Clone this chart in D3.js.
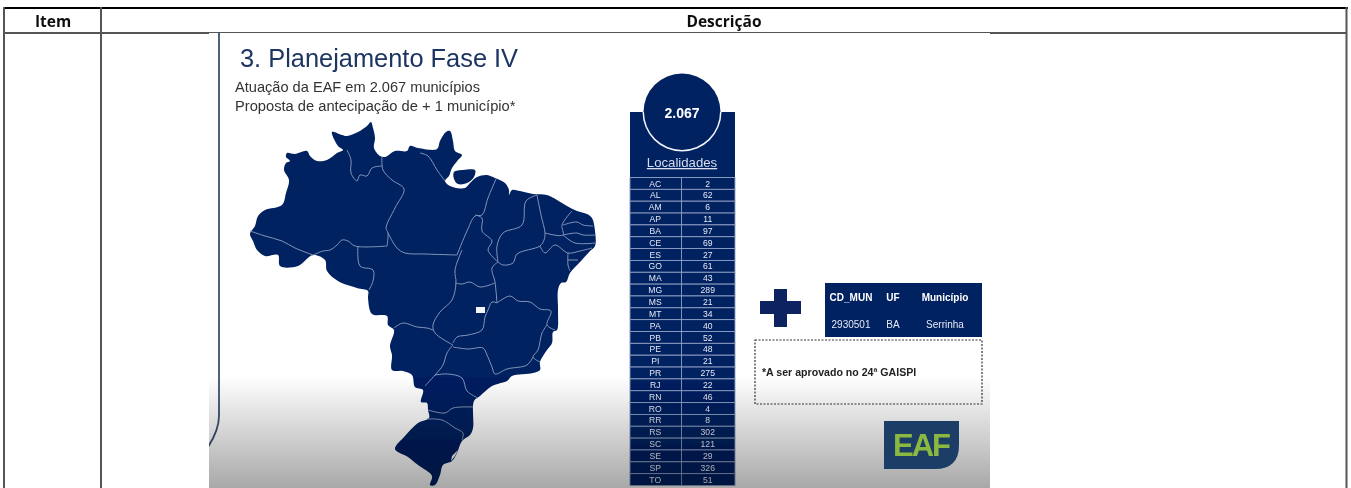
<!DOCTYPE html>
<html>
<head>
<meta charset="UTF-8" />
<title>Planejamento Fase IV</title>
<style>
    body { margin: 0; padding: 0; background: #fff; overflow: hidden; }
    svg { display: block; }
    .head { font-family: "Open Sans", sans-serif; font-weight: 700; font-size: 15.5px; fill: #111; text-anchor: middle; }
    .slide text { font-family: "Liberation Sans", sans-serif; }
    .border { fill: none; stroke: #8395bb; stroke-width: 1; stroke-linejoin: round; }
    .frame { stroke: #555; stroke-width: 2; }
</style>
</head>
<body>
<svg width="1351" height="488"></svg>
<script src="https://d3js.org/d3.v7.min.js"></script>
<script>
    // table on the right of the slide
    const ufs = ["AC","AL","AM","AP","BA","CE","ES","GO","MA","MG","MS","MT","PA","PB","PE","PI","PR","RJ","RN","RO","RR","RS","SC","SE","SP","TO"];
    const localidades = [2,62,6,11,97,69,27,61,43,289,21,34,40,52,48,21,275,22,46,4,8,302,121,29,326,51];
    const extraHeader = ["CD_MUN","UF","Município"];
    const extraRow = ["2930501","BA","Serrinha"];

    // map shapes
    const brasil = [[250,234],[255,226],[258,216],[265,210],[282,205],[286,193],[289,180],[284,170],[286,163],[290,161],[286,157],[287,153],[295,154],[307,151],[310,156],[317,161],[327,160],[337,153],[343,150],[338,146],[332,132],[342,135],[347,136],[358,132],[367,126],[371,122],[373,128],[375,138],[374,148],[380,156],[385,157],[395,151],[407,151],[410,146],[418,148],[437,149],[440,141],[446,132],[450,131],[453,141],[455,151],[462,155],[458,160],[452,168],[449,176],[445,181],[450,186],[465,188],[470,183],[477,177],[487,175],[495,178],[505,183],[509,190],[509,195],[512,190],[520,191],[533,194],[547,195],[557,200],[567,206],[577,211],[587,214],[592,218],[595,231],[595,246],[590,251],[580,262],[570,273],[566,282],[561,283],[558,290],[558,310],[557,330],[553,332],[552,343],[547,350],[540,362],[540,370],[533,373],[512,376],[507,381],[492,386],[480,396],[474,401],[473,428],[470,435],[462,441],[457,453],[452,461],[443,465],[440,475],[435,485],[430,485],[432,476],[418,465],[408,457],[395,449],[405,436],[418,423],[429,418],[428,410],[427,403],[421,402],[423,390],[415,387],[412,375],[403,371],[392,370],[392,355],[390,346],[394,330],[388,325],[387,316],[372,314],[368,298],[368,291],[357,288],[338,281],[327,271],[325,260],[313,255],[298,266],[280,266],[278,255],[265,256],[257,250],[253,241]];
    const marajo = [[454,172],[463,170],[475,170],[474,177],[467,183],[458,184],[454,179]];
    const lagoa = [[458,450],[455,456],[451,461],[452,456]];
    const divisas = [
        [[250,231],[265,236],[282,241],[295,248],[313,255]],
        [[313,255],[323,251],[330,250],[337,245],[342,240],[348,241],[355,246],[387,246]],
        [[387,246],[388,233],[386,228],[395,208],[404,189],[392,180],[383,170],[382,157]],
        [[347,150],[351,160],[351,173],[357,181],[360,175],[367,176],[372,168],[382,166]],
        [[358,246],[360,266],[373,270],[373,281],[369,290]],
        [[388,233],[397,248],[405,253],[425,254],[457,255]],
        [[420,153],[428,156],[437,170],[445,181]],
        [[457,255],[467,231],[475,216],[482,215],[488,198],[496,179]],
        [[475,215],[482,218],[482,231],[492,241],[488,250],[498,262]],
        [[498,262],[492,268],[495,282],[497,303]],
        [[455,283],[462,284],[470,282],[480,287],[495,283]],
        [[462,250],[455,270],[456,283],[452,300],[440,312],[433,325],[435,333],[453,345]],
        [[394,328],[403,323],[417,327],[427,328],[433,330]],
        [[453,343],[457,337],[468,335],[482,330],[485,317],[488,310],[492,302],[497,303]],
        [[497,303],[510,296],[518,301],[530,302],[540,309],[551,311],[547,325],[555,330]],
        [[547,325],[542,333],[538,350],[533,357],[540,362]],
        [[533,357],[527,365],[507,369],[495,374],[492,367],[487,355],[483,348],[468,349],[453,347]],
        [[453,345],[447,353],[443,365],[435,375],[425,386]],
        [[435,375],[448,374],[462,378],[467,391],[478,398]],
        [[428,410],[445,413],[453,408],[473,407]],
        [[427,419],[442,420],[455,428],[463,433],[462,440]],
        [[537,195],[541,215],[545,233],[544,240],[540,246],[517,254],[513,263],[503,265],[498,262]],
        [[537,195],[526,201],[522,225],[503,233],[497,246],[498,262]],
        [[572,211],[562,225],[563,235],[545,233]],
        [[563,225],[577,222],[583,225],[593,226]],
        [[563,235],[577,233],[583,235],[595,235]],
        [[563,235],[575,243],[595,243]],
        [[540,246],[545,253],[555,245],[568,253],[580,251],[592,248]],
        [[568,253],[568,265],[570,271]],
        [[568,260],[578,260]]
    ];
    const distrito = [[476,307],[485,307],[485,313],[476,313]];

    const navy = "#002060";
    const svg = d3.select("svg");

    const defs = svg.append("defs");
    const soft = defs.append("filter").attr("id", "soft").attr("x", "-5%").attr("y", "-5%").attr("width", "110%").attr("height", "110%");
    soft.append("feGaussianBlur").attr("stdDeviation", 0.65);
    const faint = defs.append("filter").attr("id", "faint");
    faint.append("feGaussianBlur").attr("stdDeviation", 0.3);
    const shade = defs.append("linearGradient").attr("id", "shade")
        .attr("gradientUnits", "userSpaceOnUse").attr("x1", 0).attr("x2", 0).attr("y1", 376).attr("y2", 488);
    shade.append("stop").attr("offset", "0%").attr("stop-color", "#000").attr("stop-opacity", 0);
    shade.append("stop").attr("offset", "100%").attr("stop-color", "#000").attr("stop-opacity", 0.34);
    defs.append("clipPath").attr("id", "slideclip").append("rect")
        .attr("x", 209).attr("y", 33).attr("width", 781).attr("height", 455);

    // slide
    const slide = svg.append("g").attr("class", "slide").attr("clip-path", "url(#slideclip)").append("g").attr("filter", "url(#soft)");
    slide.append("rect").attr("x", 200).attr("y", 25).attr("width", 800).attr("height", 470).attr("fill", "#fff");

    slide.append("path").attr("d", "M219,30V416Q219,430 208,447").attr("fill", "none").attr("stroke", "#3d5170").attr("stroke-width", 1.8);

    slide.append("text").attr("x", 240).attr("y", 67).attr("font-size", 25.4).attr("fill", "#1c3562").text("3. Planejamento Fase IV");
    slide.append("text").attr("x", 235).attr("y", 92).attr("font-size", 14.6).attr("fill", "#333").text("Atuação da EAF em 2.067 municípios");
    slide.append("text").attr("x", 235).attr("y", 111).attr("font-size", 14.7).attr("fill", "#333").text("Proposta de antecipação de + 1 município*");

    // map
    const mx = d3.scaleLinear().domain([250, 596]).range([250, 596]);
    const my = d3.scaleLinear().domain([122, 485]).range([122, 485]);
    const line = d3.line().x(d => mx(d[0])).y(d => my(d[1]));
    const curved = d3.line().x(d => mx(d[0])).y(d => my(d[1])).curve(d3.curveCatmullRom.alpha(0.5));
    const outline = d3.line().x(d => mx(d[0])).y(d => my(d[1])).curve(d3.curveCatmullRomClosed.alpha(0.5));
    const closed = pts => line(pts) + "Z";

    const mapa = slide.append("g");
    mapa.append("path").attr("d", outline(brasil)).attr("fill", navy);
    mapa.append("path").attr("d", outline(marajo)).attr("fill", navy);
    mapa.append("path").attr("d", closed(lagoa)).attr("fill", "#fff");
    mapa.selectAll(".border").data(divisas).enter().append("path")
        .attr("class", "border").attr("d", curved);
    mapa.append("path").attr("d", closed(distrito)).attr("fill", "#f4f6fa");

    // localidades panel
    const cx = 682;
    const panelTop = 112, rowsTop = 177.5;
    slide.append("rect").attr("x", 630).attr("y", panelTop).attr("width", 105).attr("height", rowsTop - panelTop).attr("fill", navy);
    slide.append("circle").attr("cx", cx).attr("cy", panelTop).attr("r", 38.5).attr("fill", navy);
    const arc = d3.arc().innerRadius(38).outerRadius(39.5).startAngle(Math.PI / 2).endAngle(Math.PI * 1.5);
    slide.append("path").attr("transform", `translate(${cx},${panelTop})`).attr("d", arc).attr("fill", "#f2f4f8");
    slide.append("text").attr("x", cx).attr("y", 118).attr("text-anchor", "middle").attr("font-size", 14).attr("font-weight", 700).attr("fill", "#fff").text("2.067");
    slide.append("text").attr("x", cx).attr("y", 167).attr("text-anchor", "middle").attr("font-size", 13.2).attr("fill", "#d7def0").attr("text-decoration", "underline").text("Localidades");

    const rowY = d3.scaleBand().domain(ufs).range([rowsTop, 485.5]);
    const colX = d3.scaleBand().domain(["uf", "n"]).range([630, 735]);
    const rows = slide.selectAll(".row").data(ufs).enter().append("g").attr("class", "row");
    rows.append("rect").attr("x", 630).attr("width", 105).attr("y", d => rowY(d)).attr("height", rowY.bandwidth())
        .attr("fill", navy).attr("stroke", "#8fa0c4").attr("stroke-width", 0.9);
    rows.append("text").attr("x", colX("uf") + colX.bandwidth() / 2 - 1).attr("y", d => rowY(d) + rowY.bandwidth() / 2 + 3.1)
        .attr("text-anchor", "middle").attr("font-size", 8.6).attr("fill", "#e6ebf6").text(d => d);
    rows.append("text").attr("x", colX("n") + colX.bandwidth() / 2 - 1).attr("y", d => rowY(d) + rowY.bandwidth() / 2 + 3.1)
        .attr("text-anchor", "middle").attr("font-size", 8.6).attr("fill", "#e6ebf6").text((d, i) => localidades[i]);
    slide.append("line").attr("x1", 681.5).attr("x2", 681.5).attr("y1", rowsTop).attr("y2", 485.5).attr("stroke", "#8fa0c4").attr("stroke-width", 0.9);

    // plus sign
    slide.append("rect").attr("x", 760).attr("y", 301).attr("width", 41).attr("height", 13).attr("fill", "#0a2460");
    slide.append("rect").attr("x", 774).attr("y", 289).attr("width", 13).attr("height", 38).attr("fill", "#0a2460");

    // new municipality table
    slide.append("rect").attr("x", 825).attr("y", 283).attr("width", 157).attr("height", 54).attr("fill", navy);
    const extraX = [851, 893, 945];
    slide.selectAll(".eh").data(extraHeader).enter().append("text").attr("class", "eh")
        .attr("x", (d, i) => extraX[i]).attr("y", 301).attr("text-anchor", "middle")
        .attr("font-size", 10).attr("font-weight", 700).attr("fill", "#fff").text(d => d);
    slide.selectAll(".er").data(extraRow).enter().append("text").attr("class", "er")
        .attr("x", (d, i) => extraX[i]).attr("y", 327.5).attr("text-anchor", "middle")
        .attr("font-size", 10).attr("fill", "#e6eaf4").text(d => d);

    slide.append("rect").attr("x", 755).attr("y", 340).attr("width", 227).attr("height", 64)
        .attr("fill", "none").attr("stroke", "#333").attr("stroke-width", 1.2).attr("stroke-dasharray", "2 1.5");
    slide.append("text").attr("x", 762).attr("y", 376).attr("font-size", 10.6).attr("font-weight", 700).attr("fill", "#222").text("*A ser aprovado no 24ª GAISPI");

    // darkening at the bottom of the slide
    slide.append("rect").attr("x", 200).attr("y", 376).attr("width", 800).attr("height", 120).attr("fill", "url(#shade)");

    // EAF logo sits above the darkening
    slide.append("path").attr("d", "M884,421H959V445Q959,469 935,469H884Z").attr("fill", "#1b3c66");
    slide.append("text").attr("x", 921).attr("y", 456).attr("text-anchor", "middle").attr("font-size", 31).attr("font-weight", 700)
        .attr("letter-spacing", -2).attr("fill", "#8ab83f").text("EAF");

    // outer table
    const grid = svg.append("g");
    grid.append("line").attr("x1", 3).attr("x2", 1348).attr("y1", 8).attr("y2", 8).attr("stroke", "#000").attr("stroke-width", 2);
    grid.append("line").attr("class", "frame").attr("x1", 4).attr("x2", 4).attr("y1", 7).attr("y2", 488);
    grid.append("line").attr("class", "frame").attr("x1", 101).attr("x2", 101).attr("y1", 7).attr("y2", 488);
    grid.append("line").attr("class", "frame").attr("x1", 1346.5).attr("x2", 1346.5).attr("y1", 7).attr("y2", 488);
    grid.append("line").attr("class", "frame").attr("x1", 4).attr("x2", 209).attr("y1", 33).attr("y2", 33);
    grid.append("line").attr("class", "frame").attr("x1", 209).attr("x2", 990).attr("y1", 32.5).attr("y2", 32.5).style("stroke-width", 1);
    grid.append("line").attr("class", "frame").attr("x1", 990).attr("x2", 1347).attr("y1", 33).attr("y2", 33);

    const heads = svg.append("g").attr("filter", "url(#faint)");
    heads.append("text").attr("class", "head").attr("x", 53).attr("y", 27).text("Item");
    heads.append("text").attr("class", "head").attr("x", 724).attr("y", 27).text("Descrição");
</script>
</body>
</html>
